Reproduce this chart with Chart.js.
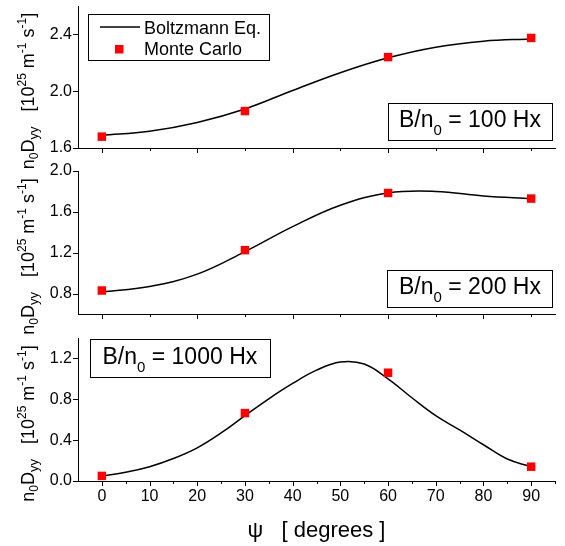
<!DOCTYPE html>
<html><head><meta charset="utf-8">
<script src="https://cdn.jsdelivr.net/npm/chart.js@4/dist/chart.umd.min.js"></script>
<style>
html,body{margin:0;padding:0;background:#fff;}
#wrap{position:relative;width:565px;height:546px;overflow:hidden;background:#fff;}
#wrap canvas{position:absolute;left:0;top:0;}
</style></head><body>
<div id="wrap">
<canvas id="c1" width="565" height="546"></canvas>
<canvas id="c2" width="565" height="546"></canvas>
<canvas id="c3" width="565" height="546"></canvas>
</div>
<script>
// ---------------- data ----------------
const seriesNames = ['Boltzmann Eq.', 'Monte Carlo'];
const mcAngles = [0, 30, 60, 90];

const curveAngles100 = [0, 10, 20, 30, 40, 50, 60, 70, 80, 90];
const boltz100 = [1.69, 1.718, 1.78, 1.875, 2.005, 2.13, 2.235, 2.31, 2.352, 2.368];
const mc100 = [1.68, 1.86, 2.24, 2.375];

const curveAngles200 = [0, 10, 20, 30, 40, 50, 60, 70, 80, 90];
const boltz200 = [0.815, 0.87, 0.99, 1.21, 1.455, 1.665, 1.785, 1.80, 1.755, 1.73];
const mc200 = [0.83, 1.225, 1.785, 1.73];

const curveAngles1000 = [0, 5, 10, 15, 20, 25, 30, 35, 40, 45, 50, 55, 60, 65, 70, 75, 80, 85, 90];
const boltz1000 = [0.05, 0.085, 0.14, 0.22, 0.325, 0.47, 0.64, 0.805, 0.955, 1.085, 1.165, 1.145, 1.0, 0.815, 0.64, 0.5, 0.355, 0.215, 0.14];
const mc1000 = [0.05, 0.665, 1.06, 0.14];

const panelLabels = ['100', '200', '1000'];
const yRanges = [[1.6, 2.6], [0.6, 2.0], [0.0, 1.4]];
const xRange = [-5, 95];
const xTitle = 'ψ   [ degrees ]';

// ---------------- helpers ----------------
const FONT = '"Liberation Sans", Arial, Helvetica, sans-serif';
function font(s) { return s + 'px ' + FONT; }

function richWidth(ctx, parts) {
  let w = 0;
  parts.forEach(p => { ctx.font = font(p.s); w += ctx.measureText(p.t).width; });
  return w;
}
function drawRich(ctx, parts, x, y) {
  let cx = x;
  parts.forEach(p => {
    ctx.font = font(p.s);
    ctx.fillText(p.t, cx, y + (p.dy || 0));
    cx += ctx.measureText(p.t).width;
  });
}

const yTitleParts = [
  {t: 'n', s: 18}, {t: '0', s: 12, dy: 4}, {t: 'D', s: 18}, {t: 'yy', s: 13, dy: 4},
  {t: '   [10', s: 18}, {t: '25', s: 12, dy: -8}, {t: ' m', s: 18}, {t: '-1', s: 12, dy: -8},
  {t: ' s', s: 18}, {t: '-1', s: 12, dy: -8}, {t: ']', s: 18}
];

function isMajorY(v) { return Math.round(v * 10) % 4 === 0; }

const decoPlugin = {
  id: 'deco',
  afterDraw(chart, args, opts) {
    const ctx = chart.ctx, a = chart.chartArea;
    const xs = chart.scales.x, ys = chart.scales.y;
    ctx.save();
    ctx.strokeStyle = '#000';
    ctx.fillStyle = '#000';
    ctx.lineWidth = 1;
    // tick marks
    ctx.beginPath();
    for (let v = 0; v <= opts.xTickMax; v += opts.xTickStep) {
      const px = Math.round(xs.getPixelForValue(v)) + 0.5;
      const len = (v % opts.xMajor === 0) ? 5 : 3;
      ctx.moveTo(px, a.bottom); ctx.lineTo(px, a.bottom + len);
    }
    ys.ticks.forEach(t => {
      const py = Math.round(ys.getPixelForValue(t.value)) + 0.5;
      const len = isMajorY(t.value) ? 5 : 3;
      ctx.moveTo(a.left - len, py); ctx.lineTo(a.left, py);
    });
    ctx.stroke();

    // y title (rotated, rich text)
    ctx.textBaseline = 'alphabetic';
    ctx.textAlign = 'left';
    const w = richWidth(ctx, yTitleParts);
    ctx.save();
    ctx.translate(33.5, (a.top + a.bottom) / 2 + 14);
    ctx.rotate(-Math.PI / 2);
    drawRich(ctx, yTitleParts, -w / 2, 0);
    ctx.restore();

    // boxed label
    const b = opts.box;
    ctx.strokeRect(Math.round(b.x) + 0.5, Math.round(b.y) + 0.5, b.w, b.h);
    const parts = [{t: 'B/n', s: 23}, {t: '0', s: 15, dy: 8}, {t: ' = ' + opts.label + ' Hx', s: 23}];
    drawRich(ctx, parts, b.tx, b.ty);

    // legend
    if (opts.legend) {
      const lx = a.left + 10, ly = a.top + 8;
      ctx.strokeRect(Math.round(lx) + 0.5, Math.round(ly) + 0.5, 181, 46);
      ctx.beginPath();
      ctx.lineWidth = 1.5;
      ctx.moveTo(lx + 12, ly + 13); ctx.lineTo(lx + 52, ly + 13);
      ctx.stroke();
      ctx.fillStyle = '#ff0000';
      ctx.fillRect(lx + 27, ly + 31, 8.5, 8.5);
      ctx.fillStyle = '#000';
      ctx.font = font(18);
      ctx.fillText(seriesNames[0], lx + 56, ly + 19.5);
      ctx.fillText(seriesNames[1], lx + 56, ly + 40.5);
    }
    ctx.restore();
  }
};

function makeChart(id, angles, curve, mc, yr, opts) {
  const ctx = document.getElementById(id).getContext('2d');
  return new Chart(ctx, {
    type: 'line',
    data: {
      datasets: [
        {
          label: seriesNames[1],
          data: mcAngles.map((x, i) => ({x, y: mc[i]})),
          showLine: false,
          pointStyle: 'rect',
          pointRadius: 6,
          pointHoverRadius: 6,
          pointBackgroundColor: '#ff0000',
          pointBorderWidth: 0,
          borderWidth: 0,
          order: 0,
          clip: false
        },
        {
          label: seriesNames[0],
          data: angles.map((x, i) => ({x, y: curve[i]})),
          borderColor: '#000',
          borderWidth: 1.5,
          pointRadius: 0,
          fill: false,
          tension: 0.4,
          order: 1,
          clip: false
        }
      ]
    },
    options: {
      responsive: false,
      animation: false,
      devicePixelRatio: 1,
      events: [],
      layout: {padding: opts.padding},
      plugins: {
        legend: {display: false},
        tooltip: {enabled: false},
        deco: opts.deco
      },
      scales: {
        x: {
          type: 'linear',
          min: xRange[0], max: xRange[1],
          grid: {display: false, drawTicks: true, tickLength: 5},
          border: {display: true, color: '#000', width: 1},
          ticks: {
            display: opts.xLabels,
            stepSize: 5,
            autoSkip: false,
            maxRotation: 0,
            padding: 1,
            color: '#000',
            font: {family: FONT, size: 16},
            callback: v => (v >= 0 && v <= 90 && v % 10 === 0) ? String(v) : null
          },
          title: opts.xLabels ? {
            display: true, text: xTitle, color: '#000',
            font: {family: FONT, size: 22}, padding: {top: 0, bottom: 0}
          } : {display: false},
          afterFit: s => { s.height = opts.xHeight; s.paddingLeft = 0; s.paddingRight = 0; }
        },
        y: {
          type: 'linear',
          min: yr[0], max: yr[1],
          grid: {display: false, drawTicks: true, tickLength: 5},
          border: {display: true, color: '#000', width: 1},
          ticks: {
            stepSize: 0.2,
            autoSkip: false,
            padding: 1,
            color: '#000',
            font: {family: FONT, size: 16},
            callback: v => isMajorY(v) ? v.toFixed(1) : null
          },
          afterFit: s => { s.width = 78; s.paddingTop = 0; s.paddingBottom = 0; }
        }
      }
    },
    plugins: [decoPlugin]
  });
}

makeChart('c1', curveAngles100, boltz100, mc100, yRanges[0], {
  padding: {top: 5, bottom: 388, left: 0, right: 10},
  xHeight: 10, xLabels: false,
  deco: {xTickMax: 90, xTickStep: 10, xMajor: 20, label: panelLabels[0], legend: true,
    box: {x: 388, y: 103, w: 164, h: 37, tx: 399, ty: 126.5}}
});
makeChart('c2', curveAngles200, boltz200, mc200, yRanges[1], {
  padding: {top: 171, bottom: 222, left: 0, right: 10},
  xHeight: 10, xLabels: false,
  deco: {xTickMax: 90, xTickStep: 10, xMajor: 20, label: panelLabels[1], legend: false,
    box: {x: 387, y: 270, w: 165, h: 37, tx: 399, ty: 293.5}}
});
makeChart('c3', curveAngles1000, boltz1000, mc1000, yRanges[2], {
  padding: {top: 338, bottom: 2, left: 0, right: 10},
  xHeight: 63, xLabels: true,
  deco: {xTickMax: 95, xTickStep: 5, xMajor: 10, label: panelLabels[2], legend: false,
    box: {x: 90, y: 339, w: 180, h: 38, tx: 102.5, ty: 363.5}}
});
</script>
</body></html>
